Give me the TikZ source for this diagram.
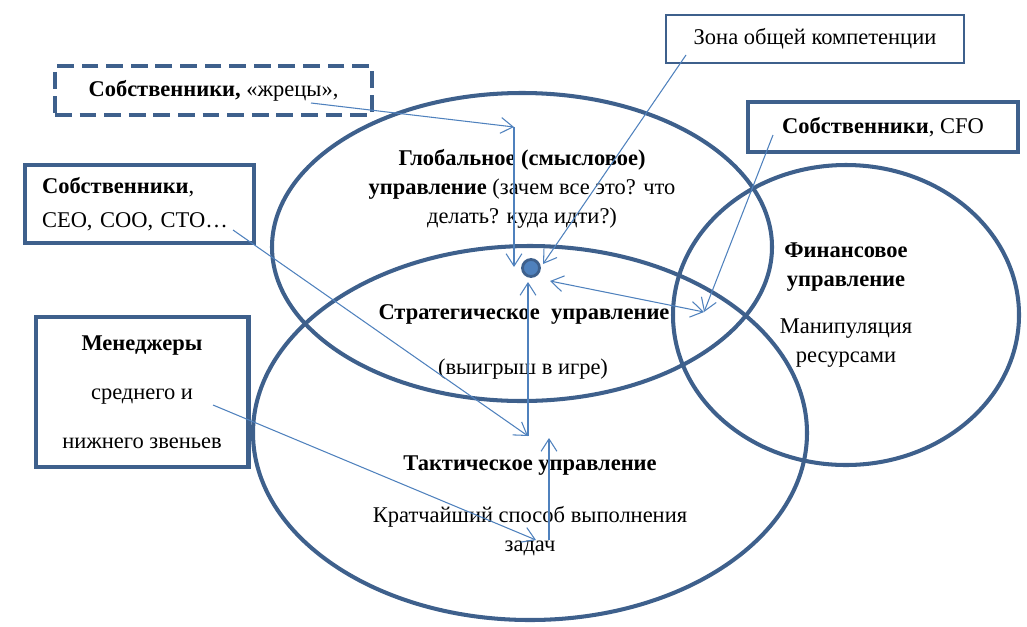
\documentclass[tikz,border=0pt]{standalone}
\usepackage{fontspec}
\setmainfont{Liberation Serif}
\usetikzlibrary{arrows.meta}
\definecolor{ringblue}{RGB}{62,96,140}
\definecolor{linkblue}{RGB}{79,129,189}
\tikzset{ring/.style = {draw=ringblue, line width=2.3pt}}
\tikzset{thickbox/.style = {draw=ringblue, line width=2.3pt, fill=white}}
\tikzset{thinbox/.style = {draw=ringblue, line width=1.1pt, fill=white}}
\tikzset{dashbox/.style = {thickbox, dash pattern=on 9.5pt off 4.5pt}}
\tikzset{txt/.style = {align=center, inner sep=0pt, font=\fontsize{12.8}{16.5}\selectfont}}
\tikzset{link/.style = {draw=linkblue, line width=0.6pt, -{Straight Barb[length=7pt,width=9pt]}}}

\begin{document}
\begin{tikzpicture}[x=0.02cm,y=-0.02cm]
\useasboundingbox (0,0) rectangle (1027,626);

\draw[ring] (522,247) ellipse (250 and 154);
\draw[ring] (530,433) ellipse (277 and 187);
\draw[ring] (846,315) ellipse (173 and 150);

\node[txt] (glob) at (522,189) {\textbf{Глобальное (смысловое)}\\\textbf{управление} (зачем все это? что\\делать? куда идти?)};
\node[txt] (strat) at (524,314) {\textbf{Стратегическое\ \ управление}};
\node[txt] (win) at (523,369) {(выигрыш в игре)};
\node[txt] (tact) at (530,466) {\textbf{Тактическое управление}};
\node[txt] (shortest) at (530,531) {Кратчайший способ выполнения\\задач};
\node[txt] (fin) at (846,267) {\textbf{Финансовое}\\\textbf{управление}};
\node[txt] (manip) at (846,343) {Манипуляция\\ресурсами};

\node[dashbox, txt, minimum width=6.34cm, minimum height=0.98cm] (own) at (213.5,90.5) {\textbf{Собственники,} «жрецы»,};
\node[thinbox, txt, minimum width=5.96cm, minimum height=0.96cm] (zone) at (815,39) {Зона общей компетенции};
\node[thickbox, txt, minimum width=5.4cm, minimum height=1.0cm] (cfo) at (883,127) {\textbf{Собственники}, CFO};
\node[thickbox, txt, align=left, text width=3.9cm, minimum width=4.58cm, minimum height=1.56cm] (ceo) at (139.5,204) {\textbf{Собственники},\\[2.8pt]CEO, COO, CTO…};
\node[thickbox, txt, minimum width=4.26cm, minimum height=3.0cm] (mgr) at (142,392) {\textbf{Менеджеры}\\[11.4pt]среднего и\\[11.4pt]нижнего звеньев};

\node[circle, draw=ringblue, line width=1.6pt, fill=linkblue, minimum size=0.34cm, inner sep=0pt] (dot) at (531,268) {};

\coordinate (ownA) at (311,103);
\coordinate (bend) at (514,127);
\coordinate (dotW) at (514,267);
\coordinate (zoneA) at (686,55);
\coordinate (dotNE) at (543,264);
\coordinate (dotE) at (550,281);
\coordinate (finA) at (704,312);
\coordinate (cfoA) at (773,135);
\coordinate (dotS) at (528,282);
\coordinate (midA) at (528,436);
\coordinate (ceoA) at (233,230);
\coordinate (mgrA) at (213,405);
\coordinate (lowA) at (536,540);
\coordinate (upA) at (549,540);
\coordinate (upB) at (549,438);

\draw[link] (ownA) -- (bend);
\draw[link] (bend) -- (dotW);
\draw[link] (zoneA) -- (dotNE);
\draw[link, {Straight Barb[length=7pt,width=9pt]}-{Straight Barb[length=7pt,width=9pt]}] (dotE) -- (finA);
\draw[link] (cfoA) -- (finA);
\draw[link] (midA) -- (dotS);
\draw[link] (ceoA) -- (midA);
\draw[link] (mgrA) -- (lowA);
\draw[link] (upA) -- (upB);
\end{tikzpicture}
\end{document}
